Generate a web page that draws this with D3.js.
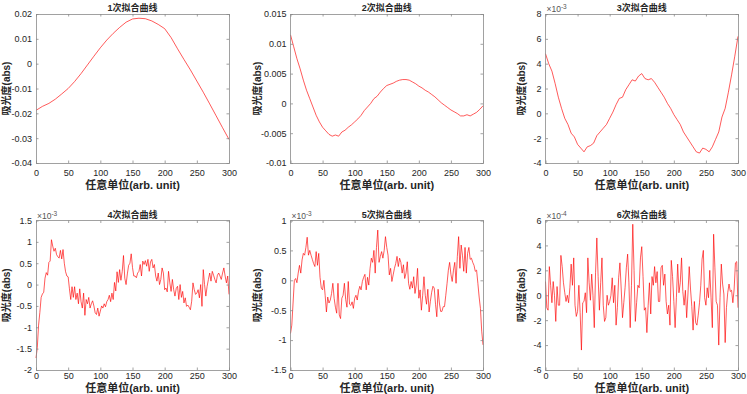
<!DOCTYPE html>
<html>
<head>
<meta charset="utf-8">
<script src="https://cdn.jsdelivr.net/npm/d3@7"></script>
<style>
  body { margin: 0; background: #fff; }
  svg { display: block; }
</style>
</head>
<body>
<div id="chart"></div>
<script>
const width = 747
const height = 394

// fit order 1..6, titles and axes
const titles = ["1次拟合曲线", "2次拟合曲线", "3次拟合曲线", "4次拟合曲线", "5次拟合曲线", "6次拟合曲线"]
const xLabel = "任意单位(arb. unit)"
const yLabel = "吸光度(abs)"
const xTicks = [0, 50, 100, 150, 200, 250, 300]
const xDomain = [0, 300]

// y axis, in the units shown on the ticks (exponent written at top-left)
const yDomains = [[-0.04, 0.02], [-0.01, 0.015], [-4, 8], [-2, 1.5], [-1.5, 1], [-6, 6]]
const yTicks = [
    [-0.04, -0.03, -0.02, -0.01, 0, 0.01, 0.02],
    [-0.01, -0.005, 0, 0.005, 0.01, 0.015],
    [-4, -2, 0, 2, 4, 6, 8],
    [-2, -1.5, -1, -0.5, 0, 0.5, 1, 1.5],
    [-1.5, -1, -0.5, 0, 0.5, 1],
    [-6, -4, -2, 0, 2, 4, 6]
]
const exponents = ["", "", "-3", "-3", "-3", "-4"]

// sample spacing along x for each series
const steps = [10, 5, 5, 2, 2, 2]

const fit1 = [-0.0188, -0.0172, -0.0160, -0.0143, -0.0122, -0.0100, -0.0072, -0.0040, -0.0005, 0.0030,
    0.0064, 0.0095, 0.0122, 0.0146, 0.0167, 0.0180, 0.0183, 0.0181, 0.0172, 0.0158,
    0.0141, 0.0105, 0.0060, 0.0017, -0.0025, -0.0070, -0.0115, -0.0162, -0.0210, -0.0258, -0.0305]

const fit2 = [0.0115, 0.0095, 0.0075, 0.0058, 0.0039, 0.0022, 0.0008, -0.0006, -0.0020, -0.0031,
    -0.0040, -0.0046, -0.0052, -0.0055, -0.0053, -0.0055, -0.0048, -0.0045, -0.0040, -0.0036,
    -0.0031, -0.0026, -0.0020, -0.0012, -0.0006, 0.0000, 0.0008, 0.0012, 0.0019, 0.0025,
    0.0030, 0.0032, 0.0034, 0.0037, 0.0039, 0.0040, 0.0040, 0.0039, 0.0036, 0.0033,
    0.0029, 0.0026, 0.0022, 0.0019, 0.0015, 0.0011, 0.0006, 0.0001, -0.0003, -0.0007,
    -0.0011, -0.0014, -0.0017, -0.0021, -0.0021, -0.0019, -0.0021, -0.0018, -0.0015, -0.0010, -0.0004]

const fit3 = [4.8, 4.0, 3.4, 2.4, 1.3, 0.4, -0.4, -0.9, -1.6, -1.9,
    -2.5, -2.8, -3.1, -2.7, -2.6, -2.4, -1.8, -1.5, -1.2, -0.9,
    -0.4, 0.1, 0.7, 1.2, 1.3, 1.9, 2.3, 2.7, 2.6, 3.0,
    3.2, 2.8, 2.7, 2.8, 2.5, 2.1, 1.7, 1.3, 0.8, 0.4,
    -0.1, -0.5, -0.9, -1.5, -1.9, -2.3, -2.7, -3.1, -3.2, -2.8,
    -2.9, -3.1, -2.7, -2.1, -1.5, -0.3, 0.4, 1.7, 3.1, 4.6, 6.2]

const fit4 = [-1.72, -1.48, -0.95, -0.65, -0.30, -0.22, -0.18, 0.15, 0.28, 0.22,
    0.52, 0.55, 1.05, 0.90, 0.78, 0.85, 0.70, 0.65, 0.62, 0.80,
    0.60, 0.82, 0.50, 0.30, 0.20, 0.18, -0.10, -0.35, -0.05, -0.30,
    -0.05, -0.35, -0.20, -0.45, -0.10, -0.40, -0.55, -0.20, -0.72, -0.35,
    -0.45, -0.30, -0.55, -0.45, -0.38, -0.50, -0.66, -0.70, -0.55, -0.74,
    -0.62, -0.50, -0.55, -0.45, -0.52, -0.40, -0.35, -0.25, -0.40, -0.20,
    -0.35, 0.05, -0.15, 0.30, 0.05, 0.35, 0.10, 0.30, 0.68, 0.15,
    0.00, 0.25, 0.45, 0.50, 0.72, 0.40,
    0.20, 0.20, 0.16, 0.27, 0.31, 0.47, 0.20, 0.55, 0.47, 0.56,
    0.43, 0.59, 0.31, 0.53, 0.59, 0.39, 0.47, 0.20, 0.08, 0.27,
    0.00, 0.12, 0.39, 0.27, -0.12, -0.08, -0.17, 0.31, 0.04, -0.16,
    0.12, -0.12, -0.27, -0.09, -0.04, -0.35, 0.00, -0.30, -0.16, -0.43,
    -0.31, -0.51, -0.48, -0.53, -0.59, -0.39, 0.04, -0.12, -0.23, -0.20,
    -0.12, -0.31, 0.00, -0.51, 0.35, 0.00, -0.27, -0.04, 0.12, 0.27,
    0.08, 0.31, 0.22, 0.12, 0.04, 0.22, 0.27, 0.20, 0.12, 0.27,
    0.39, 0.20, 0.04, 0.20, -0.23]

const fit5 = [-0.89, -0.75, -0.38, 0.00, 0.03, -0.04, 0.12, 0.25, 0.12, 0.34,
    0.45, 0.42, 0.55, 0.72, 0.42, 0.50, 0.42, 0.35, 0.28, 0.23,
    0.48, 0.25, 0.45, 0.05, -0.13, -0.16, 0.00, -0.25, -0.53, -0.28,
    -0.38, -0.33, -0.22, -0.05, -0.30, -0.45, -0.55, -0.05, -0.58, -0.64,
    -0.30, -0.25, -0.05, -0.32, -0.45, -0.02, -0.40, -0.42, -0.36, -0.47,
    -0.30, -0.25, -0.33, -0.18, -0.10, -0.16, -0.02, 0.05, 0.10, -0.16,
    0.05, -0.08, 0.20, 0.37, 0.30, 0.50, 0.12, 0.55, 0.84, 0.30,
    0.40, 0.48, 0.37, 0.50, 0.73, 0.55,
    0.42, 0.09, 0.20, -0.02, 0.09, 0.20, 0.28, 0.40, 0.23, 0.37,
    0.30, 0.12, 0.26, 0.03, 0.12, 0.31, -0.05, -0.15, -0.02, -0.13,
    0.06, -0.22, -0.08, 0.20, -0.30, -0.16, -0.50, -0.25, 0.06, -0.25,
    -0.40, -0.15, -0.53, -0.35, -0.20, -0.10, -0.13, -0.40, -0.61, -0.15,
    -0.38, -0.52, -0.52, -0.44, -0.44, -0.25, -0.05, 0.17, 0.30, 0.10,
    -0.02, 0.17, 0.30, -0.05, 0.40, 0.73, 0.20, 0.59, 0.42, 0.15,
    0.55, 0.12, 0.45, 0.55, 0.35, 0.37, 0.30, 0.25, 0.15, 0.17,
    -0.05, -0.28, -0.47, -0.85, -1.08]

const fit6 = [1.1, -1.0, -1.2, 2.3, 0.8, -0.6, 1.1, 0.0, -2.1, 0.7,
    -0.8, -0.8, 3.2, 2.3, 1.0, 0.2, -0.5, 0.0, -0.6, 0.6,
    2.5, 0.8, 3.0, -0.8, -1.7, -1.3, 0.8, -1.4, -4.4, -0.6,
    -0.5, 0.2, -1.4, 3.0, 1.0, -0.4, 1.7, 0.0, -2.6, 1.8,
    4.6, 1.5, -1.2, 1.0, 3.0, -0.8, -2.1, -1.8, 0.0, -0.8,
    -0.5, 0.0, 1.4, -0.6, 0.8, -2.4, -1.0, 1.4, 2.6, 0.5,
    -1.8, -0.6, 0.6, 2.2, 3.3, 1.0, -2.6, 0.8, 5.7, 2.0,
    -2.1, -0.6, 0.8, 0.6, 3.0, 3.9,
    1.5, -1.2, -1.0, -3.0, -0.8, 1.0, -1.5, 1.5, 0.8, 2.3,
    1.0, 1.9, -0.5, -0.5, 2.2, 2.4, 0.8, 1.7, -0.5, -1.5,
    -0.8, -2.4, 2.8, 1.5, -0.5, -2.6, -0.2, 2.5, 0.2, 1.0,
    3.0, 0.3, -0.8, 0.4, -1.8, 0.1, 2.3, 0.5, -0.9, -2.8,
    -0.5, -2.2, -2.4, -1.6, -0.6, 0.8, 2.9, 3.6, -0.2, -0.8,
    0.6, -0.2, 2.0, -0.2, -2.6, 4.9, 2.2, -0.5, -0.8, -4.0,
    -0.2, 2.5, 0.9, 0.1, -3.8, -1.0, 0.2, 0.9, 0.3, 0.4,
    -0.6, 0.5, 2.6, 2.7, -1.0]

const series = [fit1, fit2, fit3, fit4, fit5, fit6]

// panel boxes (layout only): yl = y label x, xl = x label baseline, tl = tick label baseline offset
const panels = [
    { l: 36, r: 229, t: 14, b: 163, yl: 10, xl: 189, tl: 13 },
    { l: 290.5, r: 483, t: 14, b: 163, yl: 261, xl: 189, tl: 13 },
    { l: 545.5, r: 738, t: 14, b: 163, yl: 524.5, xl: 189, tl: 13 },
    { l: 36, r: 229, t: 220.5, b: 370, yl: 10, xl: 391.5, tl: 9 },
    { l: 290.5, r: 483, t: 220.5, b: 370, yl: 261, xl: 391.5, tl: 9 },
    { l: 545.5, r: 738, t: 220.5, b: 370, yl: 524.5, xl: 391.5, tl: 9 }
]

const textColor = "#262626"
const boxColor = "#8a8a8a"
const numFont = "'Liberation Sans', Arial, sans-serif"
const cjkFont = "'Noto Sans CJK SC', 'Liberation Sans', sans-serif"
// labels: Latin glyphs in Arial-like font, CJK falls back to Noto
const labelFont = "'Liberation Sans', 'Noto Sans CJK SC', sans-serif"

const fmt = function (d) { return String(+d.toFixed(4)) }

const svg = d3.select("#chart")
    .append("svg")
    .attr("xmlns", "http://www.w3.org/2000/svg")
    .attr("width", width)
    .attr("height", height)

svg.append("rect").attr("width", width).attr("height", height).attr("fill", "#fff")

series.forEach(function (values, i) {
    const p = panels[i]
    const x = d3.scaleLinear().domain(xDomain).range([p.l, p.r])
    const y = d3.scaleLinear().domain(yDomains[i]).range([p.b, p.t])
    const g = svg.append("g")

    // the fitted curve
    const line = d3.line()
        .x(function (d, k) { return x(k * steps[i]) })
        .y(function (d) { return y(d) })

    g.append("path")
        .datum(values)
        .attr("d", line)
        .attr("fill", "none")
        .attr("stroke", "#ff0000")
        .attr("stroke-width", 0.65)
        .attr("stroke-linejoin", "round")

    // box
    g.append("rect")
        .attr("x", p.l).attr("y", p.t)
        .attr("width", p.r - p.l).attr("height", p.b - p.t)
        .attr("fill", "none")
        .attr("stroke", boxColor)
        .attr("stroke-width", 0.8)
        .attr("shape-rendering", "crispEdges")

    // axes with inward ticks on all four sides
    const bottom = g.append("g")
        .attr("transform", "translate(0," + p.b + ")")
        .call(d3.axisBottom(x).tickValues(xTicks).tickSize(-2.5).tickPadding(0).tickFormat(fmt))
    const top = g.append("g")
        .attr("transform", "translate(0," + p.t + ")")
        .call(d3.axisTop(x).tickValues(xTicks).tickSize(-2.5).tickFormat(""))
    const left = g.append("g")
        .attr("transform", "translate(" + p.l + ",0)")
        .call(d3.axisLeft(y).tickValues(yTicks[i]).tickSize(-2.5).tickPadding(4).tickFormat(fmt))
    const right = g.append("g")
        .attr("transform", "translate(" + p.r + ",0)")
        .call(d3.axisRight(y).tickValues(yTicks[i]).tickSize(-2.5).tickFormat(""))

    ;[bottom, top, left, right].forEach(function (a) {
        a.select(".domain").remove()
        a.selectAll(".tick line").attr("stroke", boxColor).attr("stroke-width", 0.8)
        a.selectAll("text")
            .attr("fill", textColor)
            .style("font-family", numFont)
            .style("font-size", "9px")
    })
    bottom.selectAll("text").attr("y", p.tl).attr("dy", null)

    // title
    g.append("text")
        .attr("x", (p.l + p.r) / 2)
        .attr("y", p.t - 3)
        .attr("text-anchor", "middle")
        .attr("fill", textColor)
        .style("font-family", labelFont)
        .style("font-size", "9px")
        .style("font-weight", "bold")
        .text(titles[i])

    // exponent marker
    if (exponents[i]) {
        const ex = g.append("text")
            .attr("x", p.l + 1)
            .attr("y", p.t - 2)
            .attr("fill", "#555")
            .style("font-family", numFont)
            .style("font-size", "8.5px")
        ex.append("tspan").text("×10")
        ex.append("tspan").attr("dy", -3).style("font-size", "6.5px").text(exponents[i])
    }

    // axis labels
    g.append("text")
        .attr("x", (p.l + p.r) / 2)
        .attr("y", p.xl)
        .attr("text-anchor", "middle")
        .attr("fill", textColor)
        .style("font-family", labelFont)
        .style("font-size", "11px")
        .style("font-weight", "bold")
        .text(xLabel)

    g.append("text")
        .attr("transform", "translate(" + p.yl + "," + (p.t + p.b) / 2 + ") rotate(-90)")
        .attr("text-anchor", "middle")
        .attr("fill", textColor)
        .style("font-family", labelFont)
        .style("font-size", "10px")
        .style("font-weight", "bold")
        .text(yLabel)
})
</script>
</body>
</html>
